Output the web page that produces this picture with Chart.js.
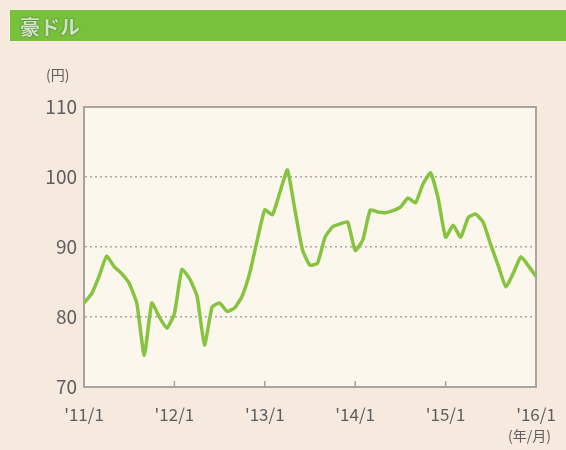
<!DOCTYPE html>
<html>
<head>
<meta charset="utf-8">
<script src="https://cdn.jsdelivr.net/npm/chart.js@4"></script>
<style>
  html, body { margin: 0; padding: 0; background: #f6eadf; }
  #wrap { position: relative; width: 566px; height: 450px; overflow: hidden; }
  #chart { position: absolute; left: 0; top: 0; }
  #titlebar {
    position: absolute; left: 10px; top: 10px; width: 556px; height: 31px;
    background: #78c13c;
  }
  #titlebar span {
    position: absolute; left: 10px; top: 2px;
    font-family: 'Noto Sans CJK JP', sans-serif; font-weight: bold; font-size: 20px;
    color: #d3e2c6; text-shadow: 0 0 2px #3f7a2a, 0 0 1px #3f7a2a;
  }
  .unit {
    position: absolute; font-family: 'Noto Sans CJK JP', sans-serif;
    font-size: 14px; color: #5e5e5e;
  }
</style>
</head>
<body>
<div id="wrap">
  <canvas id="chart" width="566" height="450"></canvas>
  <div id="titlebar"><span>豪ドル</span></div>
  <div class="unit" style="left:46px; top:64px;">(円)</div>
  <div class="unit" style="left:508px; top:425px;">(年/月)</div>
</div>
<script>
'use strict';

// ─── Datos: tipo de cambio mensual 2011/1 - 2016/1 ───────────────────────────

const meses = [];
for (let a = 2011; a <= 2016; a++) {
  for (let m = 1; m <= 12; m++) {
    if (a === 2016 && m > 1) break;
    meses.push(a + '/' + m);
  }
}

const tasa = [
  82.0, 83.3, 85.8, 88.7, 87.2, 86.2, 84.8, 82.0, 74.5, 82.0, 80.0, 78.4,
  80.5, 86.8, 85.5, 83.0, 76.0, 81.4, 82.0, 80.8, 81.3, 83.0, 86.3, 91.0,
  95.3, 94.6, 97.8, 101.0, 95.3, 89.6, 87.4, 87.7, 91.4, 92.9, 93.3, 93.6,
  89.5, 91.0, 95.3, 95.0, 94.9, 95.2, 95.7, 97.0, 96.3, 99.0, 100.6, 97.0,
  91.4, 93.1, 91.4, 94.2, 94.7, 93.5, 90.3, 87.3, 84.3, 86.3, 88.6, 87.3,
  85.8,
];

const yTicks = [70, 80, 90, 100, 110];

const C = {
  linea: '#86c440',
  eje:   '#a8a4a0',
  texto: '#5e5e5e',
  fondoArea: '#fbf7ec',
};

function etiquetaX(i) {
  const [a, m] = meses[i].split('/');
  return m === '1' ? "'" + a.slice(2) + '/1' : '';
}

// fondo del area de la grafica, marco y marcas de anio
const marco = {
  id: 'marco',
  beforeDraw(chart) {
    const { ctx, chartArea: ca } = chart;
    ctx.save();
    ctx.fillStyle = C.fondoArea;
    ctx.fillRect(ca.left, ca.top, ca.right - ca.left, ca.bottom - ca.top);
    ctx.restore();
  },
  afterDraw(chart) {
    const { ctx, chartArea: ca, scales } = chart;
    ctx.save();
    ctx.strokeStyle = C.eje;
    ctx.lineWidth = 2;
    ctx.beginPath();
    ctx.moveTo(ca.left, ca.top);
    ctx.lineTo(ca.right, ca.top);
    ctx.lineTo(ca.right, ca.bottom);
    ctx.stroke();
    ctx.lineWidth = 1.5;
    meses.forEach(function(_, i) {
      if (i % 12 !== 0 || i === 0) return;
      const x = scales.x.getPixelForValue(i);
      ctx.beginPath();
      ctx.moveTo(x, ca.bottom);
      ctx.lineTo(x, ca.bottom - 6);
      ctx.stroke();
    });
    ctx.restore();
  },
};

new Chart(document.getElementById('chart').getContext('2d'), {
  type: 'line',
  data: {
    labels: meses,
    datasets: [{
      data: tasa,
      borderColor: C.linea,
      borderWidth: 3.5,
      pointRadius: 0,
      tension: 0.15,
      fill: false,
    }],
  },
  options: {
    responsive: false,
    animation: false,
    layout: { padding: { top: 107, right: 30, left: 0, bottom: 0 } },
    plugins: { legend: { display: false }, tooltip: { enabled: false } },
    scales: {
      x: {
        type: 'category',
        offset: false,
        afterFit(s) { s.height = 63; },
        grid: { display: false },
        border: { display: true, color: C.eje, width: 2 },
        ticks: {
          autoSkip: false,
          maxRotation: 0,
          padding: 9,
          color: C.texto,
          font: { family: "'Noto Sans CJK JP', sans-serif", size: 17 },
          callback: function(v, i) { return etiquetaX(i); },
        },
      },
      y: {
        min: 70,
        max: 110,
        afterFit(s) { s.width = 84; },
        afterBuildTicks(s) { s.ticks = yTicks.map(function(v) { return { value: v }; }); },
        grid: {
          drawTicks: false,
          color: function(ctx) {
            return (ctx.tick && (ctx.tick.value === 70 || ctx.tick.value === 110)) ? 'rgba(0,0,0,0)' : '#aaa6a2';
          },
          lineWidth: 1.5,
        },
        border: {
          display: true, color: C.eje, width: 2,
          dash: [2, 3],
        },
        ticks: {
          padding: 7,
          color: C.texto,
          font: { family: "'Noto Sans CJK JP', sans-serif", size: 19 },
        },
      },
    },
  },
  plugins: [marco],
});
</script>
</body>
</html>
